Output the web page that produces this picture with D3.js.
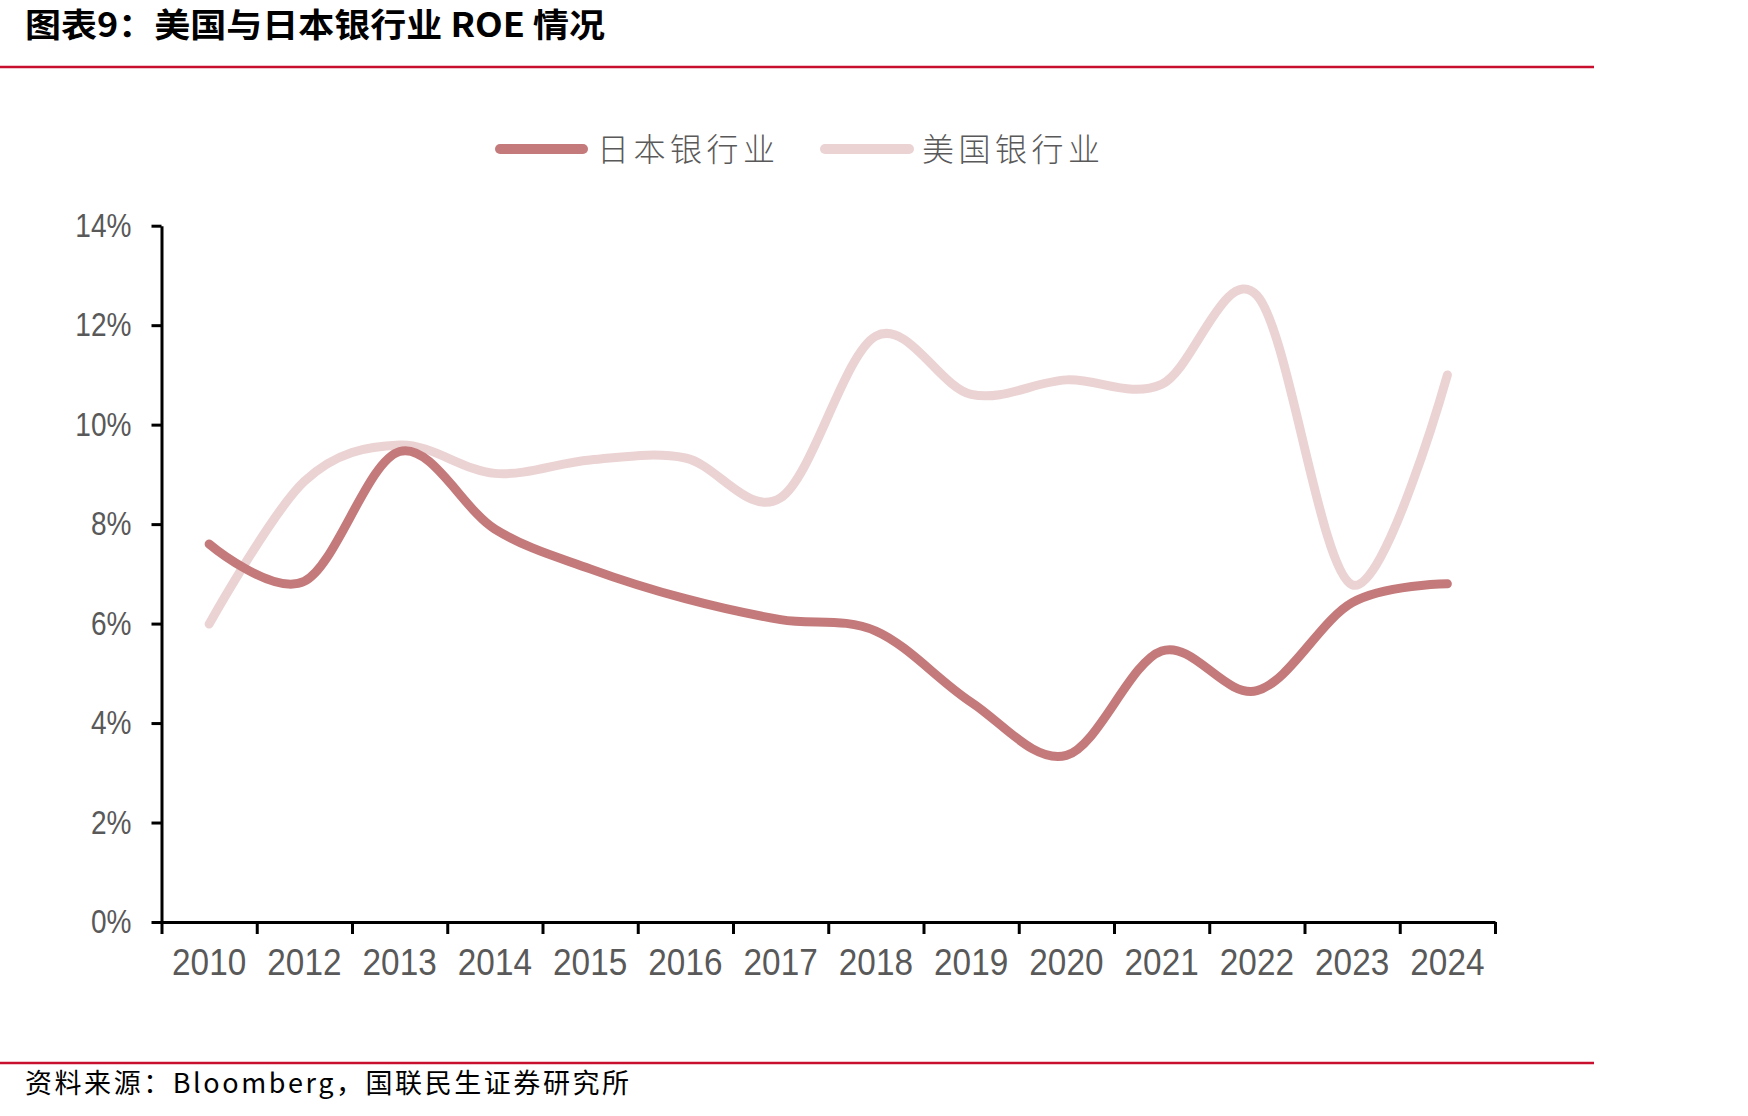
<!DOCTYPE html>
<html>
<head>
<meta charset="utf-8">
<script src="https://cdn.jsdelivr.net/npm/d3@7"></script>
<style>
  body { margin: 0; background: #fff; }
  svg { display: block; }
</style>
</head>
<body>
<div id="chart"></div>
<script>
// Data (ROE, %)
const years = ["2010", "2012", "2013", "2014", "2015", "2016", "2017",
  "2018", "2019", "2020", "2021", "2022", "2023", "2024"];
const japanRoe = [7.6, 6.85, 9.46, 7.9, 7.1, 6.5, 6.08, 5.85, 4.42, 3.35, 5.45, 4.65, 6.42, 6.8];
const usRoe = [5.99, 8.86, 9.59, 9.02, 9.29, 9.33, 8.53, 11.78, 10.61, 10.9, 10.81, 12.6, 6.78, 11.0];
const yTicks = [0, 2, 4, 6, 8, 10, 12, 14];
const seriesNames = ["日本银行业", "美国银行业"];

const W = 1748, H = 1116;
const plot = { left: 161.5, right: 1495, top: 225.7, bottom: 922 };
const colors = ["#c47a7b", "#ebd3d4"];
const tickFont = "'Liberation Sans Narrow', 'Arial Narrow', 'Liberation Sans', sans-serif";
const cjkFont = "'Noto Sans CJK SC', sans-serif";

const svg = d3.select("#chart").append("svg")
  .attr("width", W)
  .attr("height", H);

svg.append("rect").attr("width", W).attr("height", H).attr("fill", "#fff");

// Title and rules
svg.append("text")
  .attr("x", 25).attr("y", 37)
  .attr("font-family", cjkFont)
  .attr("font-weight", 700)
  .attr("font-size", 33)
  .attr("fill", "#000")
  .attr("textLength", 580)
  .attr("lengthAdjust", "spacingAndGlyphs")
  .text("图表9：美国与日本银行业 ROE 情况");

svg.append("line")
  .attr("x1", 0).attr("x2", 1594).attr("y1", 67).attr("y2", 67)
  .attr("stroke", "#c8102e").attr("stroke-width", 2.5);

svg.append("line")
  .attr("x1", 0).attr("x2", 1594).attr("y1", 1063).attr("y2", 1063)
  .attr("stroke", "#c8102e").attr("stroke-width", 2.5);

svg.append("text")
  .attr("x", 25).attr("y", 1093)
  .attr("font-family", cjkFont)
  .attr("font-size", 27)
  .attr("fill", "#000")
  .attr("textLength", 604)
  .attr("lengthAdjust", "spacing")
  .text("资料来源：Bloomberg，国联民生证券研究所");

// Scales
const x = d3.scaleBand().domain(years).range([plot.left, plot.right]);
const xEdge = d3.scaleLinear().domain([0, years.length]).range([plot.left, plot.right]);
const y = d3.scaleLinear().domain([0, 14]).range([plot.bottom, plot.top]);

// Y axis
const yAxis = svg.append("g")
  .attr("transform", `translate(${plot.left},0)`)
  .call(d3.axisLeft(y).tickValues(yTicks).tickFormat((d) => d + "%")
    .tickSize(10).tickSizeOuter(0).tickPadding(20));

// X axis: labels under band centres, ticks on band edges
const xAxis = svg.append("g")
  .attr("transform", `translate(0,${plot.bottom})`)
  .call(d3.axisBottom(x).tickSize(0).tickSizeOuter(0).tickPadding(27));

svg.append("g")
  .attr("transform", `translate(0,${plot.bottom})`)
  .call(d3.axisBottom(xEdge).tickValues(d3.range(years.length + 1))
    .tickFormat("").tickSize(12).tickSizeOuter(0))
  .call((g) => g.select(".domain").remove());

svg.selectAll(".domain, .tick line")
  .attr("stroke", "#000")
  .attr("stroke-width", 3);

// condensed look for tick labels
function narrow(sel, size, factor) {
  sel.attr("font-family", tickFont)
    .attr("font-size", size)
    .attr("fill", "#595959")
    .each(function () {
      const len = this.getComputedTextLength();
      d3.select(this)
        .attr("textLength", len * factor)
        .attr("lengthAdjust", "spacingAndGlyphs");
    });
}
narrow(yAxis.selectAll("text"), 33, 0.85);
narrow(xAxis.selectAll("text"), 37, 0.9);

// Lines
const line = d3.line()
  .x((d, i) => x(years[i]) + x.bandwidth() / 2)
  .y((d) => y(d))
  .curve(d3.curveCatmullRom.alpha(0));

[usRoe, japanRoe].forEach((values, k) => {
  svg.append("path")
    .datum(values)
    .attr("d", line)
    .attr("fill", "none")
    .attr("stroke", k === 0 ? colors[1] : colors[0])
    .attr("stroke-width", 9)
    .attr("stroke-linecap", "round")
    .attr("stroke-linejoin", "round");
});

// Legend
const legendItems = [
  { name: seriesNames[0], color: colors[0], x1: 500, x2: 583, tx: 597 },
  { name: seriesNames[1], color: colors[1], x1: 825, x2: 909, tx: 922 },
];
const legendY = 149;

const legend = svg.append("g");
legendItems.forEach((item) => {
  legend.append("line")
    .attr("x1", item.x1).attr("x2", item.x2)
    .attr("y1", legendY).attr("y2", legendY)
    .attr("stroke", item.color)
    .attr("stroke-width", 10)
    .attr("stroke-linecap", "round");
  legend.append("text")
    .attr("x", item.tx).attr("y", legendY)
    .attr("dy", "0.36em")
    .attr("font-family", cjkFont)
    .attr("font-weight", 300)
    .attr("font-size", 32)
    .attr("fill", "#595959")
    .attr("textLength", 178)
    .attr("lengthAdjust", "spacing")
    .text(item.name);
});
</script>
</body>
</html>
